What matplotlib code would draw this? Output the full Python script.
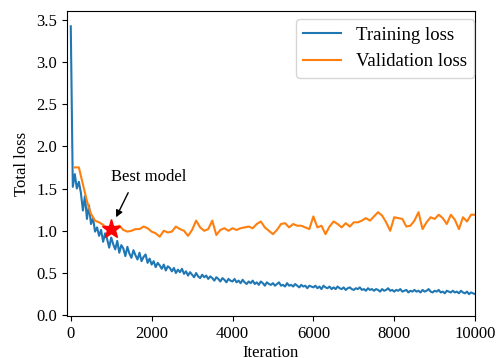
import numpy as np
import matplotlib
matplotlib.use("Agg")
import matplotlib.pyplot as plt

# ---------------------------------------------------------------------
# Data
# ---------------------------------------------------------------------
train_step = 50
train_loss = [
    3.42, 1.52, 1.67, 1.50, 1.58, 1.45, 1.24, 1.41, 1.14, 1.30,
    1.08, 1.15, 0.99, 1.04, 0.94, 1.01, 0.87, 0.97, 0.90, 0.80,
    0.92, 0.84, 0.78, 0.88, 0.74, 0.83, 0.79, 0.70, 0.81, 0.73,
    0.68, 0.77, 0.71, 0.66, 0.74, 0.64, 0.69, 0.72, 0.62, 0.67,
    0.60, 0.64, 0.57, 0.62, 0.59, 0.55, 0.60, 0.53, 0.58, 0.56,
    0.52, 0.56, 0.50, 0.54, 0.51, 0.55, 0.49, 0.52, 0.47, 0.51,
    0.48, 0.45, 0.50, 0.46, 0.44, 0.48, 0.45, 0.47, 0.43, 0.46,
    0.44, 0.41, 0.45, 0.43, 0.40, 0.44, 0.42, 0.39, 0.43, 0.41,
    0.40, 0.43, 0.39, 0.41, 0.38, 0.42, 0.39, 0.37, 0.40, 0.38,
    0.41, 0.37, 0.39, 0.36, 0.40, 0.38, 0.35, 0.39, 0.37, 0.36,
    0.38, 0.35, 0.37, 0.39, 0.35, 0.36, 0.34, 0.38, 0.35, 0.36,
    0.34, 0.37, 0.35, 0.33, 0.36, 0.34, 0.35, 0.32, 0.35, 0.34,
    0.33, 0.35, 0.32, 0.34, 0.31, 0.35, 0.33, 0.32, 0.34, 0.31,
    0.33, 0.31, 0.34, 0.32, 0.31, 0.33, 0.30, 0.32, 0.33, 0.31,
    0.30, 0.32, 0.31, 0.33, 0.30, 0.31, 0.29, 0.32, 0.30, 0.31,
    0.29, 0.31, 0.30, 0.28, 0.31, 0.29, 0.30, 0.32, 0.29, 0.30,
    0.28, 0.30, 0.29, 0.31, 0.28, 0.29, 0.30, 0.27, 0.29, 0.28,
    0.30, 0.28, 0.29, 0.27, 0.30, 0.28, 0.29, 0.31, 0.28, 0.27,
    0.29, 0.28, 0.30, 0.27, 0.28, 0.26, 0.29, 0.28, 0.27, 0.29,
    0.27, 0.28, 0.26, 0.29, 0.27, 0.26, 0.28, 0.25, 0.27, 0.26,
    0.25,
]

val_step = 100
val_loss = [
    1.75, 1.75, 1.55, 1.35, 1.20, 1.12, 1.10, 1.07, 1.03, 1.02,
    1.04, 1.06, 1.01, 0.99, 1.00, 1.02, 1.02, 1.05, 1.03, 0.99,
    0.97, 0.93, 1.00, 0.98, 0.99, 1.05, 1.02, 1.00, 0.94, 1.01,
    1.12, 1.04, 1.00, 1.02, 1.12, 0.95, 1.01, 1.03, 1.00, 1.03,
    1.01, 1.03, 1.04, 1.05, 1.03, 1.08, 1.11, 1.04, 1.00, 0.96,
    1.01, 1.08, 1.09, 1.04, 1.08, 1.06, 1.06, 1.04, 1.02, 1.17,
    1.04, 1.06, 0.96, 1.05, 1.11, 1.08, 1.04, 1.09, 1.05, 1.10,
    1.10, 1.12, 1.15, 1.12, 1.17, 1.22, 1.18, 1.10, 1.00, 1.16,
    1.15, 1.14, 1.05, 1.06, 1.12, 1.22, 1.02, 1.10, 1.16, 1.14,
    1.19, 1.15, 1.08, 1.19, 1.13, 1.02, 1.16, 1.11, 1.19, 1.19,
]

best_iter = 1000
best_loss = 1.02

train_iter = np.arange(len(train_loss)) * train_step
val_iter = (np.arange(len(val_loss)) + 1) * val_step

plt.rcParams["font.family"] = ["Liberation Serif", "DejaVu Serif"]
plt.rcParams["font.size"] = 12

fig = plt.figure(figsize=(4.98, 3.58), dpi=100)
ax = fig.add_axes([0.134, 0.117, 0.820, 0.852])

ax.plot(train_iter, train_loss, color="tab:blue", lw=1.5, label="Training loss")
ax.plot(val_iter, val_loss, color="tab:orange", lw=1.5, label="Validation loss")
ax.plot(best_iter, best_loss, marker="*", color="red", markersize=14, zorder=5)

# arrow pointing at the best checkpoint
ax.annotate("", xy=(1090, 1.13), xytext=(1450, 1.48),
            arrowprops=dict(arrowstyle="-|>", color="black", lw=1,
                            mutation_scale=10))
ax.text(1930, 1.64, "Best model", ha="center", va="center", fontsize=12)

ax.set_xlim(-100, 10000)
ax.set_ylim(-0.01, 3.6)
ax.set_xticks([0, 2000, 4000, 6000, 8000, 10000])
ax.set_yticks([0.0, 0.5, 1.0, 1.5, 2.0, 2.5, 3.0, 3.5])
ax.set_xlabel("Iteration", labelpad=2)
ax.set_ylabel("Total loss")
ax.legend(loc="upper right", fontsize=13.5, borderaxespad=0,
          bbox_to_anchor=(0.998, 0.973))

fig.savefig("out.png", dpi=100)
